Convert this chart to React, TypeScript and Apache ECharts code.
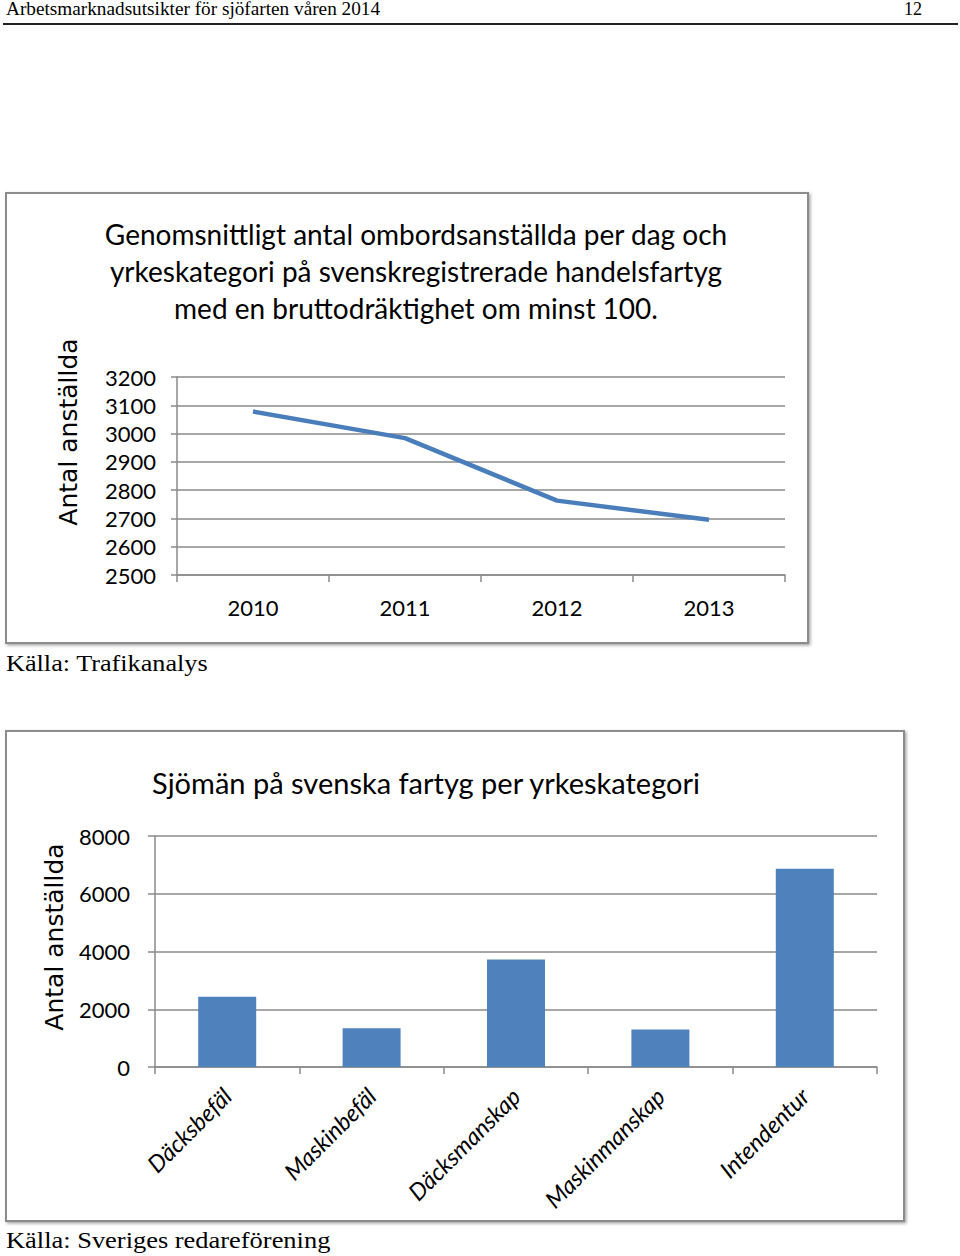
import React, { useEffect, useRef } from "react";
import * as echarts from "echarts";

const headerText = "Arbetsmarknadsutsikter för sjöfarten våren 2014";
const pageNumber = "12";

const lineTitleLines = [
  "Genomsnittligt antal ombordsanställda per dag och",
  "yrkeskategori på svenskregistrerade handelsfartyg",
  "med en bruttodräktighet om minst 100.",
];
const years = ["2010", "2011", "2012", "2013"];
const employeesPerDay = [3078, 2984, 2763, 2695];
const lineYMin = 2500;
const lineYMax = 3200;
const lineYStep = 100;
const lineSource = "Källa: Trafikanalys";

const barTitle = "Sjömän på svenska fartyg per yrkeskategori";
const categories = ["Däcksbefäl", "Maskinbefäl", "Däcksmanskap", "Maskinmanskap", "Intendentur"];
const seamen = [2430, 1340, 3720, 1300, 6870];
const barYMin = 0;
const barYMax = 8000;
const barYStep = 2000;
const barSource = "Källa: Sveriges redareförening";

const yAxisName = "Antal anställda";

const SANS = "Lato, 'Noto Sans', sans-serif";
const SERIF = "'Liberation Serif', 'DejaVu Serif', serif";
const GRID = "#8a8a8a";
const BLUE = "#4A7EBB";
const BAR = "#4F81BD";

function txt(x: number, y: number, text: string, size: number, family: string, align = "left", extra: any = {}) {
  return {
    type: "text",
    x,
    y,
    silent: true,
    ...extra,
    style: {
      text,
      fontSize: size,
      fontFamily: family,
      fill: "#000",
      textAlign: align,
      align,
      textVerticalAlign: "middle",
      verticalAlign: "middle",
      ...(extra.style || {}),
    },
  };
}

export default function App() {
  const ref = useRef<HTMLDivElement>(null);
  useEffect(() => {
    if (!ref.current) return;
    const chart = echarts.init(ref.current, null, { renderer: "svg" });
    const axisLabelStyle = { color: "#000", fontSize: 22, fontFamily: SANS };
    const plain = (v: number) => String(v);
    const option: any = {
      animation: false,
      backgroundColor: "#fff",
      grid: [
        { left: 177, right: 175, top: 377, bottom: 681 },
        { left: 155, right: 83, top: 836, bottom: 189 },
      ],
      xAxis: [
        {
          type: "category",
          gridIndex: 0,
          data: years,
          boundaryGap: true,
          axisLine: { show: true, lineStyle: { color: GRID, width: 1.5 } },
          axisTick: { show: true, length: 7, interval: 0, lineStyle: { color: GRID, width: 1.5 } },
          axisLabel: { ...axisLabelStyle, margin: 21, interval: 0 },
        },
        {
          type: "category",
          gridIndex: 1,
          data: categories,
          boundaryGap: true,
          axisLine: { show: true, lineStyle: { color: GRID, width: 1.5 } },
          axisTick: { show: true, length: 7, interval: 0, lineStyle: { color: GRID, width: 1.5 } },
          axisLabel: { ...axisLabelStyle, fontSize: 23.5, fontStyle: "italic", rotate: 45, margin: 25, interval: 0 },
        },
      ],
      yAxis: [
        {
          type: "value",
          gridIndex: 0,
          min: lineYMin,
          max: lineYMax,
          interval: lineYStep,
          axisLine: { show: true, lineStyle: { color: GRID, width: 1.5 } },
          axisTick: { show: true, length: 6, lineStyle: { color: GRID, width: 1.5 } },
          axisLabel: { ...axisLabelStyle, margin: 21, formatter: plain },
          splitLine: { show: true, lineStyle: { color: GRID, width: 1.5 } },
        },
        {
          type: "value",
          gridIndex: 1,
          min: barYMin,
          max: barYMax,
          interval: barYStep,
          axisLine: { show: true, lineStyle: { color: GRID, width: 1.5 } },
          axisTick: { show: true, length: 7, lineStyle: { color: GRID, width: 1.5 } },
          axisLabel: { ...axisLabelStyle, margin: 25, formatter: plain },
          splitLine: { show: true, lineStyle: { color: GRID, width: 1.5 } },
        },
      ],
      series: [
        {
          type: "line",
          xAxisIndex: 0,
          yAxisIndex: 0,
          data: employeesPerDay,
          symbol: "none",
          lineStyle: { color: BLUE, width: 4.5 },
          z: 5,
        },
        {
          type: "bar",
          xAxisIndex: 1,
          yAxisIndex: 1,
          data: seamen,
          barWidth: 58,
          itemStyle: { color: BAR },
          z: 5,
        },
      ],
      graphic: {
        elements: [
          {
            type: "rect",
            z: -10,
            silent: true,
            shape: { x: 6, y: 193, width: 802, height: 450 },
            style: { fill: "#fff", stroke: "#8c8c8c", lineWidth: 2, shadowBlur: 3, shadowOffsetX: 1.5, shadowOffsetY: 1.5, shadowColor: "rgba(0,0,0,0.35)" },
          },
          {
            type: "rect",
            z: -10,
            silent: true,
            shape: { x: 6, y: 731, width: 898, height: 490 },
            style: { fill: "#fff", stroke: "#8c8c8c", lineWidth: 2, shadowBlur: 3, shadowOffsetX: 1.5, shadowOffsetY: 1.5, shadowColor: "rgba(0,0,0,0.35)" },
          },
          {
            type: "line",
            silent: true,
            shape: { x1: 3, y1: 24, x2: 958, y2: 24 },
            style: { stroke: "#222", lineWidth: 2 },
          },
          txt(6, 9, headerText, 18, SERIF, "left", { scaleX: 1.07 }),
          txt(922, 9, pageNumber, 18, SERIF, "right"),
          txt(416, 234, lineTitleLines[0], 28, SANS, "center"),
          txt(416, 271, lineTitleLines[1], 28, SANS, "center"),
          txt(416, 308, lineTitleLines[2], 28, SANS, "center"),
          txt(68, 432, yAxisName, 25, "'DejaVu Sans', sans-serif", "center", { rotation: Math.PI / 2 }),
          txt(6, 663, lineSource, 23, SERIF, "left", { scaleX: 1.14 }),
          txt(426, 782, barTitle, 29, SANS, "center"),
          txt(54, 937, yAxisName, 25, "'DejaVu Sans', sans-serif", "center", { rotation: Math.PI / 2 }),
          txt(6, 1240, barSource, 23, SERIF, "left", { scaleX: 1.15 }),
        ],
      },
    };
    chart.setOption(option);
    return () => chart.dispose();
  }, []);
  return (
    <div
      ref={ref}
      style={{ position: "absolute", left: 0, top: 0, width: 960, height: 1256 }}
    />
  );
}
